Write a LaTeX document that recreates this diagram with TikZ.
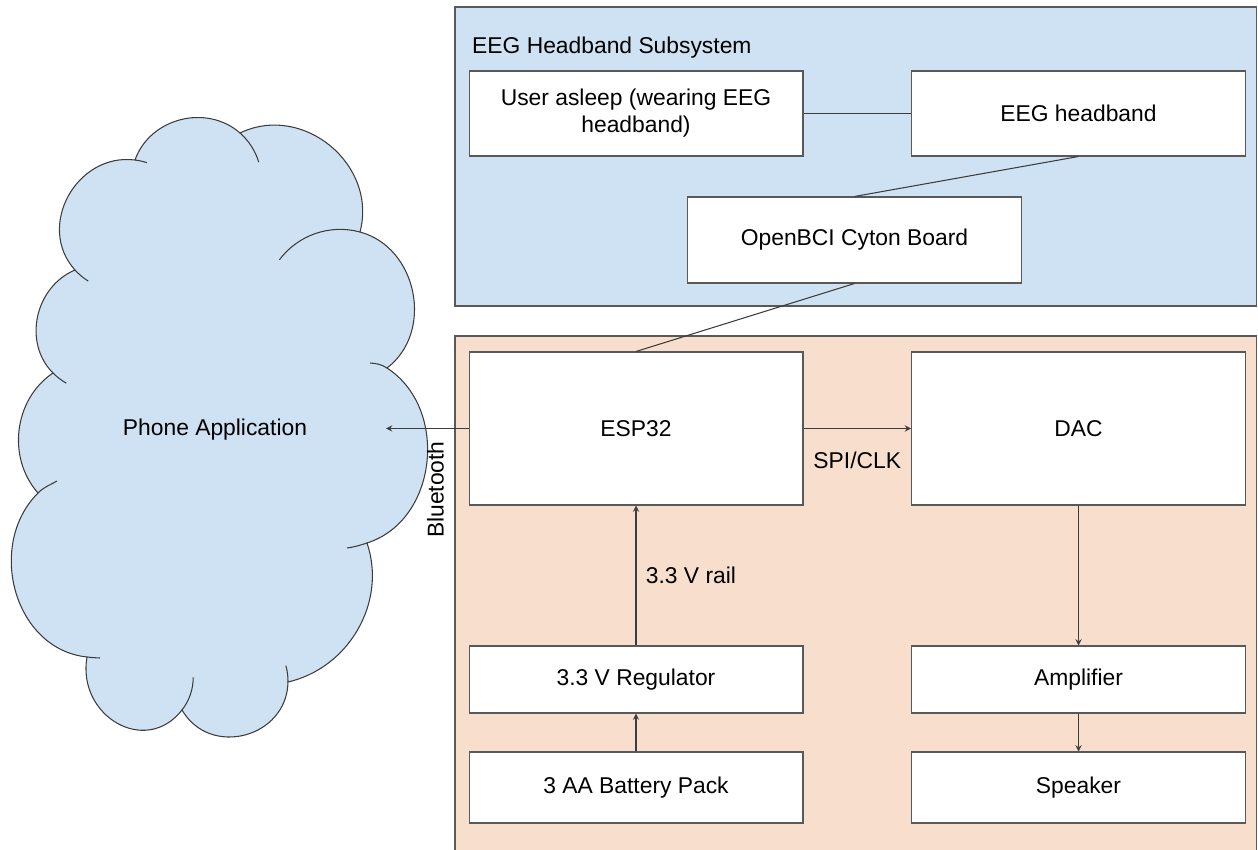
\documentclass[tikz,border=0pt]{standalone}
\usepackage{fontspec}
\setmainfont{Liberation Sans}
\usetikzlibrary{positioning}
\definecolor{azzurro}{RGB}{207,226,243}
\definecolor{pesca}{RGB}{248,222,204}
\definecolor{bordo}{RGB}{89,89,89}
\definecolor{linea}{RGB}{60,60,60}

\begin{document}
\begin{tikzpicture}[x=0.02cm, y=0.02cm, font=\fontsize{13}{15.3}\selectfont,
		blocco/.style={draw=bordo, fill=white, line width=0.6pt, minimum width=6.68cm, align=center},
		freccia/.style={color=linea, line width=0.6pt, -stealth},
		filo/.style={color=linea, line width=0.6pt},
		gruppo/.style={draw=bordo, line width=0.6pt},
		nuvola/.style={draw=linea, line width=0.6pt}]
		\useasboundingbox (0,0) rectangle (1258,849);
		
		% sottosistemi
		\filldraw[gruppo, fill=azzurro] (455,543) rectangle (1256.5,842);
		\filldraw[gruppo, fill=pesca] (455,513) rectangle (1256.5,-5);
		\node[anchor=base west] (titolo) at (466,795) {EEG Headband Subsystem};
		
		% nuvola
		\filldraw[nuvola, fill=azzurro]
			(135,689) to[out=70.5, in=138.7, looseness=1.05] (240,716)
			to[out=25.7, in=75.2, looseness=1.15] (360,617)
			to[out=-15.1, in=37.2, looseness=1.1] (387,481)
			to[out=-33, in=17.6, looseness=1.08] (367,306)
			to[out=-71.2, in=13, looseness=1] (288,167)
			to[out=-91, in=-59.9, looseness=1.3] (182,139)
			to[out=-128, in=260, looseness=1.4] (87,192)
			to[out=174, in=225, looseness=1.1] (38,356)
			to[out=131.5, in=213.9, looseness=1] (53,476)
			to[out=135, in=202.8, looseness=1.05] (75,579)
			to[out=132.1, in=172.8, looseness=1.2] cycle;
		\draw[nuvola] (240,716) arc[start angle=48.7, end angle=16.8, radius=63];
		\draw[nuvola] (360,617) arc[start angle=74.9, end angle=143.1, radius=76];
		\draw[nuvola] (387,481) to[out=147, in=-5] (370,486);
		\draw[nuvola] (367,306) to[out=-162, in=8] (347,301);
		\draw[nuvola] (288,167) arc[start angle=-1, end angle=16, radius=56];
		\draw[nuvola] (182,139) arc[start angle=-38, end angle=0, radius=53];
		\draw[nuvola] (87,192) to[out=-6, in=178] (100,191);
		\draw[nuvola] (38,356) to[out=45, in=210] (57,368);
		\draw[nuvola] (53,476) arc[start angle=225, end angle=240, radius=64];
		\draw[nuvola] (75,579) arc[start angle=222.1, end angle=238, radius=62.5];
		\draw[nuvola] (135,689) arc[start angle=82.8, end angle=71.6, radius=62.5];
		\node (telefono) at (215,419) {Phone Application};
		\coordinate (bt) at (386,420.5);
		
		% blocchi EEG
		\node[blocco, minimum height=1.7cm] (utente) at (636,735.5) {User asleep (wearing EEG\\headband)};
		\node[blocco, minimum height=1.7cm] (fascia) at (1078.5,735.5) {EEG headband};
		\node[blocco, minimum height=1.72cm] (cyton) at (854.5,609) {OpenBCI Cyton Board};
		
		% blocchi audio
		\node[blocco, minimum height=3.06cm] (esp) at (636,420.5) {ESP32};
		\node[blocco, minimum height=3.06cm] (dac) at (1078.5,420.5) {DAC};
		\node[blocco, minimum height=1.34cm] (regolatore) at (636,169.5) {3.3 V Regulator};
		\node[blocco, minimum height=1.34cm] (amp) at (1078.5,169.5) {Amplifier};
		\node[blocco, minimum height=1.42cm] (batteria) at (636,61.5) {3 AA Battery Pack};
		\node[blocco, minimum height=1.42cm] (cassa) at (1078.5,61.5) {Speaker};
		
		% collegamenti
		\draw[filo] (utente.east) -- (fascia.west);
		\draw[filo] (fascia.south) -- (cyton.north);
		\draw[filo] (cyton.south) -- (esp.north);
		\draw[freccia] (esp.west) -- (bt) node[pos=0.4, rotate=90, anchor=east, inner xsep=7pt, text=black] {Bluetooth};
		\draw[freccia] (esp.east) -- (dac.west) node[midway, below=10pt, text=black] {SPI/CLK};
		\draw[freccia] (regolatore.north) -- (esp.south) node[midway, right=2pt, text=black] {3.3 V rail};
		\draw[freccia] (batteria.north) -- (regolatore.south);
		\draw[freccia] (dac.south) -- (amp.north);
		\draw[freccia] (amp.south) -- (cassa.north);
	\end{tikzpicture}
\end{document}
